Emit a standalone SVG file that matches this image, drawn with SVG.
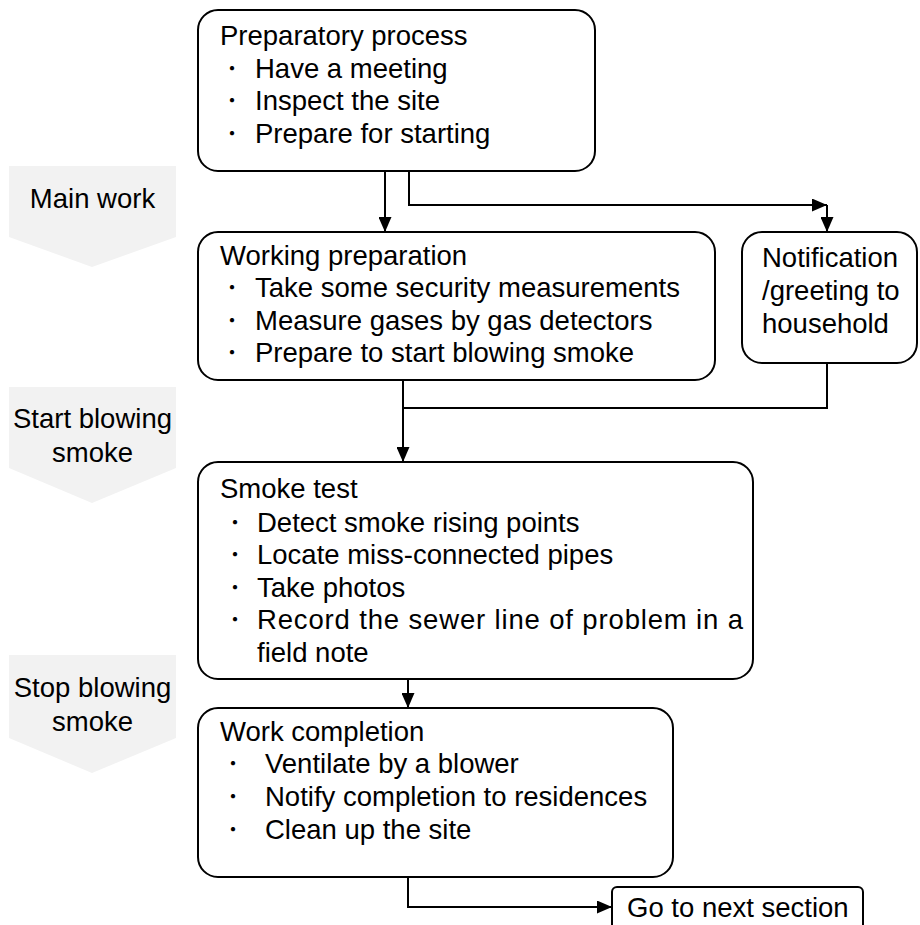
<svg xmlns="http://www.w3.org/2000/svg" width="920" height="925" viewBox="0 0 920 925">
<style>
.box{fill:#fff;stroke:#000;stroke-width:2}
.chev{fill:#f2f2f2}
.t{font-family:"Liberation Sans",Arial,sans-serif;font-size:27.5px;fill:#000}
.b{font-family:"Noto Sans CJK JP","Liberation Sans",sans-serif;font-size:20px}
.c{text-anchor:middle}
.ln{fill:none;stroke:#000;stroke-width:2}
</style>
<defs>
<marker id="ah" markerUnits="userSpaceOnUse" markerWidth="15" markerHeight="13" refX="15" refY="6.5" orient="auto">
<path d="M0,0 L15,6.5 L0,13 z" fill="#000"/>
</marker>
</defs>
<rect width="920" height="925" fill="#fff"/>
<g id="phase-main">
<polygon class="chev" points="9,166 176,166 176,237 92,267 9,237"/>
<text class="t c" x="92.5" y="208">Main work</text>
</g>
<g id="phase-start">
<polygon class="chev" points="9,387 176,387 176,468 92,503 9,468"/>
<text class="t c" x="92.5" y="428">Start blowing</text>
<text class="t c" x="92.5" y="462">smoke</text>
</g>
<g id="phase-stop">
<polygon class="chev" points="9,655 176,655 176,738 92,773 9,738"/>
<text class="t c" x="92.5" y="697">Stop blowing</text>
<text class="t c" x="92.5" y="731">smoke</text>
</g>
<g id="connectors">
<path class="ln" d="M385,171 V232" marker-end="url(#ah)"/>
<path class="ln" d="M409,171 V205 H827" marker-end="url(#ah)"/>
<path class="ln" d="M827,205 V232" marker-end="url(#ah)"/>
<path class="ln" d="M827,363 V408 H403"/>
<path class="ln" d="M403,380 V462" marker-end="url(#ah)"/>
<path class="ln" d="M408,679 V708" marker-end="url(#ah)"/>
<path class="ln" d="M408,877 V907 H612" marker-end="url(#ah)"/>
</g>
<g id="preparatory">
<rect class="box" x="198" y="10" width="397" height="161" rx="20"/>
<text class="t" x="220" y="45">Preparatory process</text>
<text class="t" x="222" y="76"><tspan class="b">・</tspan><tspan x="255" y="78">Have a meeting</tspan></text>
<text class="t" x="222" y="108"><tspan class="b">・</tspan><tspan x="255" y="110">Inspect the site</tspan></text>
<text class="t" x="222" y="141"><tspan class="b">・</tspan><tspan x="255" y="143">Prepare for starting</tspan></text>
</g>
<g id="working">
<rect class="box" x="198" y="232" width="517" height="148" rx="20"/>
<text class="t" x="220" y="265">Working preparation</text>
<text class="t" x="222" y="295"><tspan class="b">・</tspan><tspan x="255" y="297">Take some security measurements</tspan></text>
<text class="t" x="222" y="328"><tspan class="b">・</tspan><tspan x="255" y="330">Measure gases by gas detectors</tspan></text>
<text class="t" x="222" y="360"><tspan class="b">・</tspan><tspan x="255" y="362">Prepare to start blowing smoke</tspan></text>
</g>
<g id="notification">
<rect class="box" x="742" y="232" width="175" height="131" rx="20"/>
<text class="t" x="762" y="267">Notification</text>
<text class="t" x="762" y="300">/greeting to</text>
<text class="t" x="762" y="333">household</text>
</g>
<g id="smoke">
<rect class="box" x="198" y="462" width="555" height="217" rx="20"/>
<text class="t" x="220" y="498">Smoke test</text>
<text class="t" x="225" y="530"><tspan class="b">・</tspan><tspan x="257" y="532">Detect smoke rising points</tspan></text>
<text class="t" x="225" y="562"><tspan class="b">・</tspan><tspan x="257" y="564">Locate miss-connected pipes</tspan></text>
<text class="t" x="225" y="595"><tspan class="b">・</tspan><tspan x="257" y="597">Take photos</tspan></text>
<text class="t" x="225" y="627"><tspan class="b">・</tspan><tspan x="257" y="629" textLength="486" lengthAdjust="spacing">Record the sewer line of problem in a</tspan></text>
<text class="t" x="257" y="662">field note</text>
</g>
<g id="completion">
<rect class="box" x="198" y="708" width="475" height="169" rx="20"/>
<text class="t" x="220" y="741">Work completion</text>
<text class="t" x="223" y="771"><tspan class="b">・</tspan><tspan x="265" y="773">Ventilate by a blower</tspan></text>
<text class="t" x="223" y="804"><tspan class="b">・</tspan><tspan x="265" y="806">Notify completion to residences</tspan></text>
<text class="t" x="223" y="837"><tspan class="b">・</tspan><tspan x="265" y="839">Clean up the site</tspan></text>
</g>
<g id="next">
<rect class="box" x="612" y="887" width="251" height="50" rx="5"/>
<text class="t" x="627" y="917">Go to next section</text>
</g>
</svg>
